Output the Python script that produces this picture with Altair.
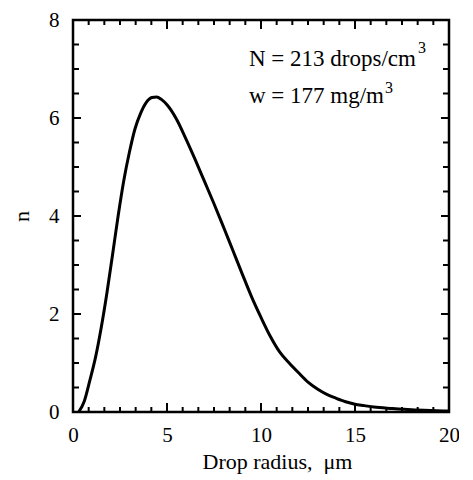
import altair as alt
import pandas as pd

# Curve
radius = [0.3, 0.6, 0.9, 1.2, 1.5, 1.8, 2.1, 2.4, 2.7, 3.0, 3.3, 3.6, 3.9, 4.2, 4.45, 4.7,
          5.0, 5.5, 6.0, 6.5, 7.0, 7.5, 8.0, 8.5, 9.0, 9.5, 10.0, 10.5, 11.0, 11.5, 12.0,
          12.5, 13.0, 13.5, 14.0, 14.5, 15.0, 15.5, 16.0, 17.0, 18.0, 19.0, 20.0]
n_values = [0.0, 0.22, 0.65, 1.12, 1.72, 2.42, 3.2, 4.0, 4.72, 5.3, 5.78, 6.1, 6.32, 6.42, 6.43, 6.38,
            6.27, 5.98, 5.58, 5.15, 4.70, 4.25, 3.78, 3.30, 2.82, 2.35, 1.93, 1.54, 1.22, 1.0, 0.8,
            0.61, 0.47, 0.36, 0.28, 0.21, 0.16, 0.13, 0.10, 0.07, 0.045, 0.03, 0.02]

x_labels = [0, 5, 10, 15, 20]
y_labels = [0, 2, 4, 6, 8]
x_major_ticks = [5, 10, 15]
x_minor_ticks = [round(i * 5 / 6, 4) for i in range(1, 24) if i % 6]
y_major_ticks = [2, 4, 6]
y_minor_ticks = [1, 3, 5, 7, 0.5, 1.5, 2.5, 3.5, 4.5, 5.5, 6.5, 7.5]

line1 = "N = 213 drops/cm"
line2 = "w = 177 mg/m"
sup = "3"
x_title = "Drop radius,\u00a0 \u03bcm"

W, H = 376, 392
FONT = "Liberation Serif"

xs = alt.Scale(domain=[0, 20], nice=False, zero=False)
ys = alt.Scale(domain=[0, 8], nice=False, zero=False)

x_axis = alt.Axis(values=x_labels, title=x_title, ticks=False,
                  domain=False, grid=False, labelPadding=12, labelFontSize=21,
                  titleFontSize=22, titlePadding=6, titleX=204, labelFlush=False)
y_axis = alt.Axis(values=y_labels, title="n", ticks=False, domain=False, grid=False,
                  labelPadding=14, labelFontSize=21, titleFontSize=22,
                  titlePadding=15, labelFlush=False)

df = pd.DataFrame({"radius": radius, "n": n_values})

curve = alt.Chart(df).mark_line(
    color="black", strokeWidth=3, interpolate="monotone", clip=True
).encode(
    x=alt.X("radius:Q", scale=xs, axis=x_axis),
    y=alt.Y("n:Q", scale=ys, axis=y_axis),
)


def xticks(vals, length, top):
    d = pd.DataFrame({"radius": vals})
    y0 = 0 if top else H
    y1 = length if top else H - length
    return alt.Chart(d).mark_rule(color="black", strokeWidth=2).encode(
        x=alt.X("radius:Q", scale=xs, axis=x_axis), y=alt.value(y0), y2=alt.value(y1))


def yticks(vals, length, right):
    d = pd.DataFrame({"n": vals})
    x0 = W if right else 0
    x1 = W - length if right else length
    return alt.Chart(d).mark_rule(color="black", strokeWidth=2).encode(
        y=alt.Y("n:Q", scale=ys, axis=y_axis), x=alt.value(x0), x2=alt.value(x1))


ticks = [
    xticks(x_minor_ticks, 5, False), xticks(x_major_ticks, 9, False),
    xticks(x_minor_ticks, 5, True), xticks(x_major_ticks, 9, True),
    yticks(y_minor_ticks, 6, False), yticks(y_major_ticks, 8, False),
    yticks(y_minor_ticks, 6, True), yticks(y_major_ticks, 8, True),
]


def label(txt, px, py, size):
    return alt.Chart(pd.DataFrame({"s": [txt]})).mark_text(
        align="left", baseline="alphabetic", font=FONT, fontSize=size, color="black"
    ).encode(text="s:N", x=alt.value(px), y=alt.value(py))


texts = [
    label(line1, 176, 46, 23),
    label(sup, 345, 33, 16),
    label(line2, 176, 83, 23),
    label(sup, 312, 73, 16),
]

chart = alt.layer(curve, *ticks, *texts).properties(
    width=W, height=H,
    autosize=alt.AutoSizeParams(type="none"),
    padding={"left": 65, "top": 12, "right": 10, "bottom": 66},
).configure_view(
    stroke="black", strokeWidth=2.5
).configure_axis(
    labelFont=FONT, titleFont=FONT, labelColor="black", titleColor="black",
    titleFontWeight="normal"
)

chart.save("out.html", embed_options={"renderer": "svg", "actions": False})
